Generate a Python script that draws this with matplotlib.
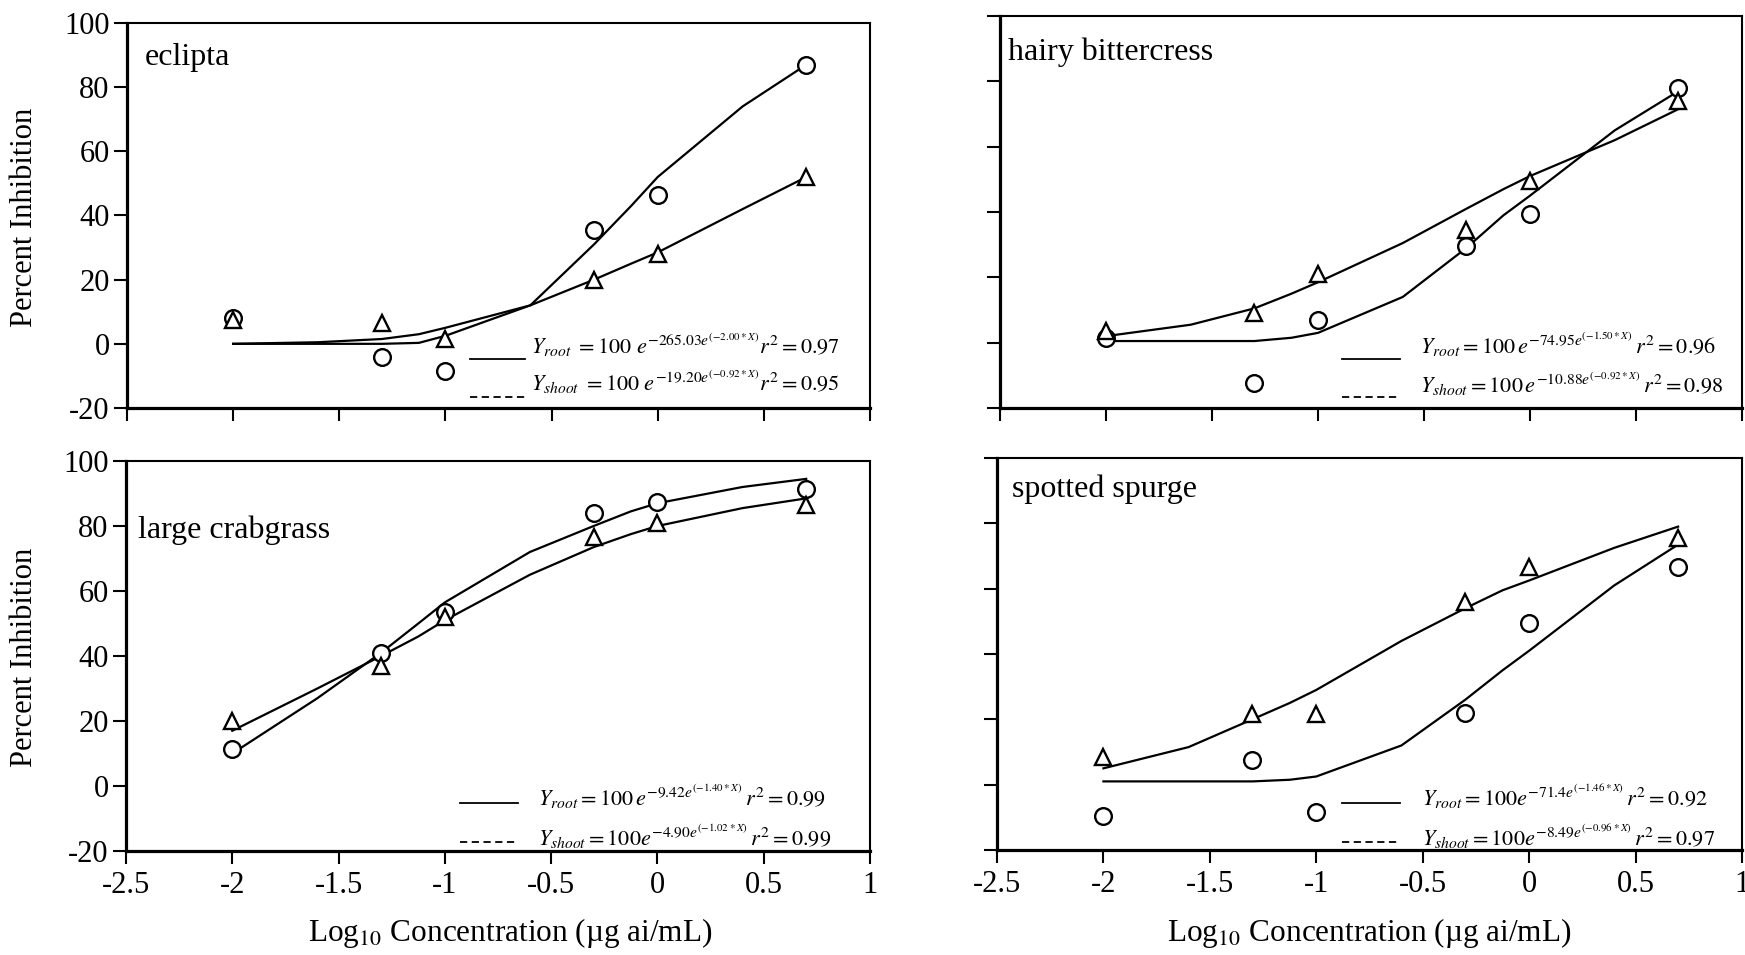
import matplotlib
matplotlib.use('Agg')
import matplotlib.pyplot as plt

plt.rcParams['font.family'] = ['Liberation Serif', 'DejaVu Serif']
plt.rcParams['mathtext.fontset'] = 'stix'
plt.rcParams['axes.unicode_minus'] = False

# log10 concentrations of the observed points and of the fitted curve vertices
x_obs = [-2, -1.3, -1, -0.3, 0, 0.7]
x_fit = [-2, -1.6, -1.3, -1.125, -1, -0.6, -0.3, -0.125, 0, 0.4, 0.7]

# eclipta
eclipta_root = [8, -4, -8.5, 35.5, 46.5, 87]
eclipta_shoot = [7.5, 6.5, 1.5, 20, 28, 52]
eclipta_root_fit = [0, 0, 0, 0.3, 2.5, 12, 31, 43, 52, 74, 87]
eclipta_shoot_fit = [0, 0.5, 1.5, 3, 5, 12, 20, 25, 28.5, 42, 52]

# hairy bittercress
bitter_root = [1.5, -12.5, 7, 29.5, 39.5, 78]
bitter_shoot = [3.5, 9, 21, 34.5, 49.5, 74]
bitter_root_fit = [0.5, 0.5, 0.5, 1.5, 3, 14, 29, 39, 45, 65, 77]
bitter_shoot_fit = [2, 5.5, 10.5, 15, 18.5, 30.5, 41, 47, 51, 62, 71.5]

# large crabgrass
crab_root = [11.5, 41, 53.5, 84, 87.5, 91.5]
crab_shoot = [20, 37, 52, 76.5, 81, 86.5]
crab_root_fit = [10, 27, 41, 50, 56.5, 72, 80, 84.5, 87, 92, 94.5]
crab_shoot_fit = [17, 30, 40, 46, 51, 65, 73.5, 77.5, 80, 85.5, 88.5]

# spotted spurge
spurge_root = [-9.5, 7.5, -8.5, 22, 49.5, 66.5]
spurge_shoot = [8.5, 21.5, 21.5, 56, 66.5, 75.5]
spurge_root_fit = [1, 1, 1, 1.5, 2.5, 12, 26, 35, 41, 61, 73.5]
spurge_shoot_fit = [5, 11.5, 20, 25, 29, 44, 54, 59.5, 62.5, 72.5, 79]

species = ['eclipta', 'hairy bittercress', 'large crabgrass', 'spotted spurge']
eq_root = [
    r'$Y_{root}\ =100\ e^{-265.03e^{(-2.00*X)}}r^2 = 0.97$',
    r'$Y_{root} = 100\,e^{-74.95e^{(-1.50*X)}}\,r^2 = 0.96$',
    r'$Y_{root} = 100\,e^{-9.42e^{(-1.40*X)}}\,r^2 = 0.99$',
    r'$Y_{root} = 100e^{-71.4e^{(-1.46*X)}}\,r^2 = 0.92$',
]
eq_shoot = [
    r'$Y_{shoot}\ = 100\ e^{-19.20e^{(-0.92*X)}}r^2 = 0.95$',
    r'$Y_{shoot} = 100\,e^{-10.88e^{(-0.92*X)}}\,r^2 = 0.98$',
    r'$Y_{shoot} = 100e^{-4.90e^{(-1.02*X)}}\,r^2 = 0.99$',
    r'$Y_{shoot} = 100e^{-8.49e^{(-0.96*X)}}\,r^2 = 0.97$',
]

root_obs = [eclipta_root, bitter_root, crab_root, spurge_root]
shoot_obs = [eclipta_shoot, bitter_shoot, crab_shoot, spurge_shoot]
root_fit = [eclipta_root_fit, bitter_root_fit, crab_root_fit, spurge_root_fit]
shoot_fit = [eclipta_shoot_fit, bitter_shoot_fit, crab_shoot_fit, spurge_shoot_fit]

W, H = 1745, 955
fig = plt.figure(figsize=(W / 100, H / 100), dpi=100)

def px_rect(l, t, r, b):
    return [l / W, 1 - b / H, (r - l) / W, (b - t) / H]

# panel boxes in pixels (left, top, right, bottom)
boxes = [(127, 23, 870, 408), (1000, 16, 1742, 408),
         (126, 461, 870, 851), (997, 458, 1742, 850)]
# label / legend anchors in pixels
name_pos = [(145, 57), (1008, 52), (138, 530), (1012, 489)]
leg_line_x = [(470, 525), (1342, 1400), (460, 518), (1342, 1400)]
leg_root_y = [359, 359, 803, 803]
leg_shoot_y = [397, 397, 842, 842]
eq_x = [531, 1420, 538, 1422]
eq_root_y = [345, 345, 797, 797]
eq_shoot_y = [382, 384, 837, 837]

for i in range(4):
    ax = fig.add_axes(px_rect(*boxes[i]))
    ax.plot(x_fit, root_fit[i], color='black', lw=1.6)
    ax.plot(x_fit, shoot_fit[i], color='black', lw=1.6)
    ax.plot(x_obs, root_obs[i], 'o', ms=12, mfc='white', mec='black', mew=1.7)
    ax.plot(x_obs, shoot_obs[i], '^', ms=12, mfc='white', mec='black', mew=1.7)
    ax.set_xlim(-2.5, 1)
    ax.set_ylim(-20, 100)
    ax.set_xticks([-2.5, -2, -1.5, -1, -0.5, 0, 0.5, 1])
    ax.set_xticklabels(['-2.5', '-2', '-1.5', '-1', '-0.5', '0', '0.5', '1'])
    ax.set_yticks([-20, 0, 20, 40, 60, 80, 100])
    ax.tick_params(direction='out', length=9.5, width=1.5, labelsize=22, pad=3)
    ax.tick_params(axis='x', pad=5)
    if i < 2:
        ax.tick_params(axis='x', labelbottom=False)
    if i % 2 == 1:
        ax.tick_params(axis='y', labelleft=False)
    ax.spines['left'].set_linewidth(2.3)
    ax.spines['bottom'].set_linewidth(2.3)
    ax.spines['top'].set_linewidth(1.5)
    ax.spines['right'].set_linewidth(1.5)

    fig.text(name_pos[i][0] / W, 1 - name_pos[i][1] / H, species[i],
             fontsize=23, ha='left', va='center')
    x0, x1 = leg_line_x[i]
    fig.add_artist(plt.Line2D([x0 / W, x1 / W], [1 - leg_root_y[i] / H] * 2,
                              color='black', lw=1.3))
    fig.add_artist(plt.Line2D([x0 / W, x1 / W], [1 - leg_shoot_y[i] / H] * 2,
                              color='black', lw=1.3, ls=(0, (4, 2.5))))
    fig.text(eq_x[i] / W, 1 - eq_root_y[i] / H, eq_root[i],
             fontsize=16, ha='left', va='center')
    fig.text(eq_x[i] / W, 1 - eq_shoot_y[i] / H, eq_shoot[i],
             fontsize=16, ha='left', va='center')

for yc in (217, 657):
    fig.text(25 / W, 1 - yc / H, 'Percent Inhibition', fontsize=22,
             rotation=90, ha='center', va='center')
for xc in (510, 1369):
    fig.text(xc / W, 1 - 933 / H, r'Log$_{10}$ Concentration (µg ai/mL)',
             fontsize=22.5, ha='center', va='center')

fig.savefig('out.png', dpi=100)
